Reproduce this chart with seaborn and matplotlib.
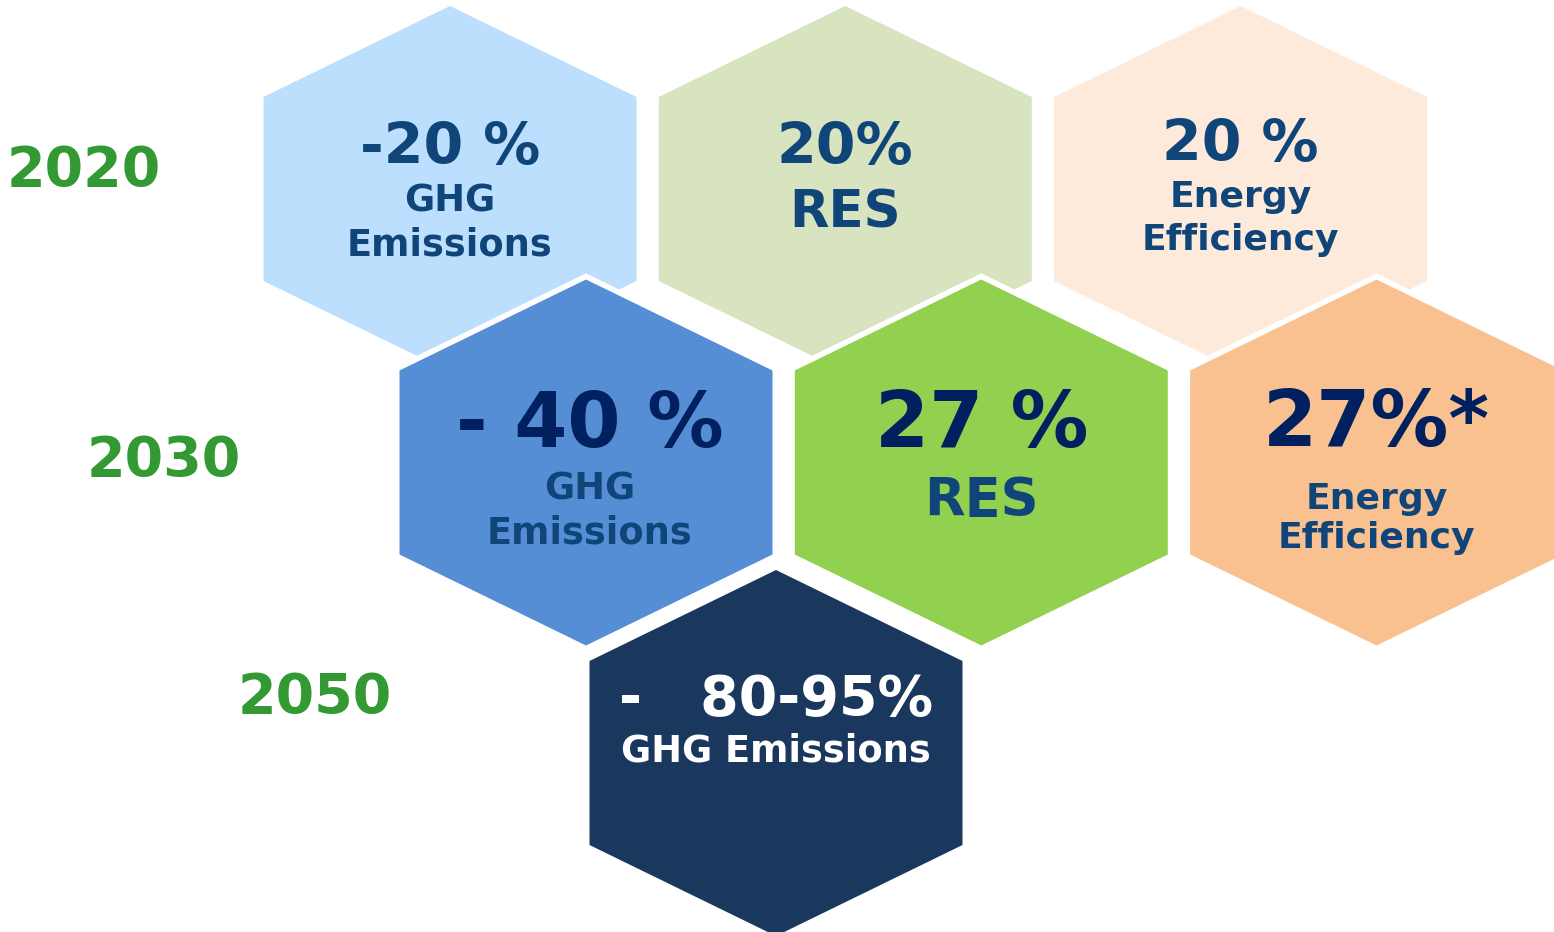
import matplotlib
matplotlib.use("Agg")
import matplotlib.pyplot as plt
import seaborn as sns
import numpy as np

# ---------------- data ----------------
years = ["2020", "2030", "2050"]

values_2020 = ["-20 %", "20%", "20 %"]
labels_2020 = [["GHG", "Emissions"], ["RES"], ["Energy", "Efficiency"]]

values_2030 = ["- 40 %", "27 %", "27%*"]
labels_2030 = [["GHG", "Emissions"], ["RES"], ["Energy", "Efficiency"]]

values_2050 = ["-   80-95%"]
labels_2050 = [["GHG Emissions"]]

fill_2020 = ["#BBDFFD", "#D8E4BF", "#FDEADB"]
fill_2030 = ["#558ED5", "#92D050", "#F9C190"]
fill_2050 = ["#1A375E"]

# ---------------- style ----------------
sns.set_theme(style="white")
plt.rcParams["font.family"] = ["DejaVu Sans"]

W, H = 1554, 932
fig = plt.figure(figsize=(W / 100, H / 100), dpi=100)
ax = fig.add_axes([0, 0, 1, 1])
ax.set_xlim(0, W)
ax.set_ylim(H, 0)
ax.set_axis_off()

LABEL = "#10457A"
BIG = "#002060"
YEARC = "#339933"

# hexagon geometry (pixel units)
hw, ha, hh = 186.5, 92, 183
col_step = 395.3


def hexagon(cx, cy):
    xs = [cx, cx + hw, cx + hw, cx, cx - hw, cx - hw]
    ys = [cy - hh, cy - ha, cy + ha, cy + hh, cy + ha, cy - ha]
    return np.array(xs), np.array(ys)


rows = [
    dict(x0=450, y=189, vals=values_2020, labs=labels_2020, fills=fill_2020, halo=False,
         vsize=[41, 41, 41], vbase=[164, 164, 161], vcol=[LABEL] * 3, tdx=[0, 0, 0],
         lsize=[26.5, 37, 26], lbase=[[211, 256], [227], [207, 250]], lcol=LABEL),
    dict(x0=586, y=462.5, vals=values_2030, labs=labels_2030, fills=fill_2030, halo=True,
         vsize=[55, 56, 56], vbase=[447, 447, 446], vcol=[BIG] * 3, tdx=[4, 0, 0],
         lsize=[26.5, 38, 26], lbase=[[499, 543], [516], [509, 548]], lcol=LABEL),
    dict(x0=776, y=753, vals=values_2050, labs=labels_2050, fills=fill_2050, halo=True,
         vsize=[40], vbase=[715], vcol=["white"], tdx=[0],
         lsize=[26.5], lbase=[[762]], lcol="white"),
]

z = 1
for r in rows:
    for i, (val, labs, fc) in enumerate(zip(r["vals"], r["labs"], r["fills"])):
        cx = r["x0"] + i * col_step
        cy = r["y"]
        xs, ys = hexagon(cx, cy)
        if r["halo"]:
            ax.fill(xs, ys, color="white", lw=8, ec="white", joinstyle="miter", zorder=z)
            z += 1
        ax.fill(xs, ys, color=fc, lw=0, zorder=z)
        z += 1
        tx = cx + r["tdx"][i]
        ax.text(tx, r["vbase"][i], val, ha="center", va="baseline", fontsize=r["vsize"][i],
                fontweight="bold", color=r["vcol"][i], zorder=100)
        for line, b in zip(labs, r["lbase"][i]):
            ax.text(tx, b, line, ha="center", va="baseline", fontsize=r["lsize"][i],
                    fontweight="bold", color=r["lcol"], zorder=100)

# year labels
year_pos = [(84, 186), (164, 476), (315, 713)]
for yr, (x, y) in zip(years, year_pos):
    ax.text(x, y, yr, ha="center", va="baseline", fontsize=40, fontweight="bold",
            color=YEARC, zorder=100)

fig.savefig("out.png", dpi=100, facecolor="white")
